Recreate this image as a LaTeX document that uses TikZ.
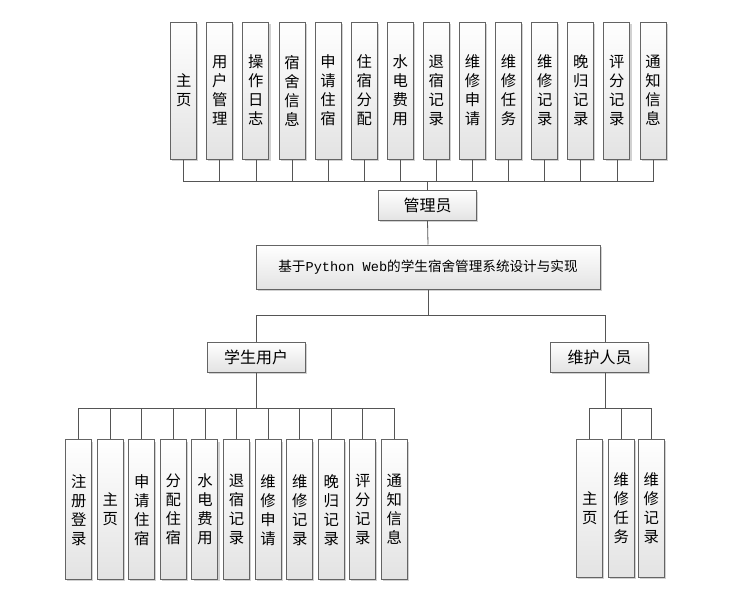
\documentclass[tikz,border=0pt]{standalone}
\usepackage{fontspec}
\setmainfont{Noto Sans CJK SC}
\newfontfamily\monofont{Liberation Mono}
\usepackage{tikz}
\usetikzlibrary{positioning, shadows}
\definecolor{boxline}{RGB}{100,100,100}
\definecolor{linkline}{RGB}{85,85,85}

\begin{document}
\begin{tikzpicture}[
    x=0.75pt, y=-0.75pt,
    box/.style={rectangle, draw=boxline, line width=0.75pt, top color=white, bottom color=black!11,
        drop shadow={shadow xshift=1.2pt, shadow yshift=-1.2pt, fill=black!40, opacity=0.45},
        inner sep=0pt, align=center},
    rolebox/.style={box, minimum width=73.5pt, minimum height=22.5pt, font=\fontsize{12}{14}\selectfont},
    titlebox/.style={box, minimum width=258pt, minimum height=33pt, font=\fontsize{10.2}{12}\selectfont},
    leafbox/.style={box, minimum width=19.5pt, font=\fontsize{11.5}{14.25}\selectfont},
    link/.style={draw=linkline, line width=0.6pt}
]
\useasboundingbox[fill=white] (0,0) rectangle (735,607);

% Administrator and its functions
\node[rolebox] (adm) at (427.5,205.5) {管理员};
\coordinate (abus) at (427.5,181.7);
\foreach \t [count=\i] in {主\\页, 用\\户\\管\\理, 操\\作\\日\\志, 宿\\舍\\信\\息, 申\\请\\住\\宿,
    住\\宿\\分\\配, 水\\电\\费\\用, 退\\宿\\记\\录, 维\\修\\申\\请, 维\\修\\任\\务,
    维\\修\\记\\录, 晚\\归\\记\\录, 评\\分\\记\\录, 通\\知\\信\\息}{
    \node[leafbox, minimum height=102.75pt] (a\i) at ({183.7+36.1*(\i-1)},90.5) {\t};
    \draw[link] (a\i.south) |- (abus);
}
\draw[link] (adm.north) -- (abus);

% System title
\node[titlebox] (main) at (428,267) {基于{\monofont Python Web}的学生宿舍管理系统设计与实现};
\coordinate (mbus) at (428,315);
\draw[link] (adm.south) -- (main.north);
\draw[link] (main.south) -- (mbus);

% Student user
\node[rolebox] (stu) at (256,357) {学生用户};
\coordinate (sbus) at (256,408);
\draw[link] (stu.north) |- (mbus);
\draw[link] (stu.south) -- (sbus);
\foreach \t [count=\i] in {注\\册\\登\\录, 主\\页, 申\\请\\住\\宿, 分\\配\\住\\宿, 水\\电\\费\\用,
    退\\宿\\记\\录, 维\\修\\申\\请, 维\\修\\记\\录, 晚\\归\\记\\录, 评\\分\\记\\录, 通\\知\\信\\息}{
    \node[leafbox, minimum height=104.6pt] (s\i) at ({78.7+31.57*(\i-1)},509.7) {\t};
    \draw[link] (s\i.north) |- (sbus);
}

% Maintenance staff
\node[rolebox] (mnt) at (599.7,357) {维护人员};
\coordinate (nbus) at (605.7,408);
\draw[link] ([xshift=4.5pt]mnt.north) |- (mbus);
\draw[link] ([xshift=4.5pt]mnt.south) -- (nbus);
\foreach \t/\x [count=\i] in {主\\页/589.7, 维\\修\\任\\务/621.3, 维\\修\\记\\录/651.3}{
    \node[leafbox, minimum height=103.5pt] (n\i) at (\x,508.3) {\t};
    \draw[link] (n\i.north) |- (nbus);
}

\end{tikzpicture}
\end{document}
